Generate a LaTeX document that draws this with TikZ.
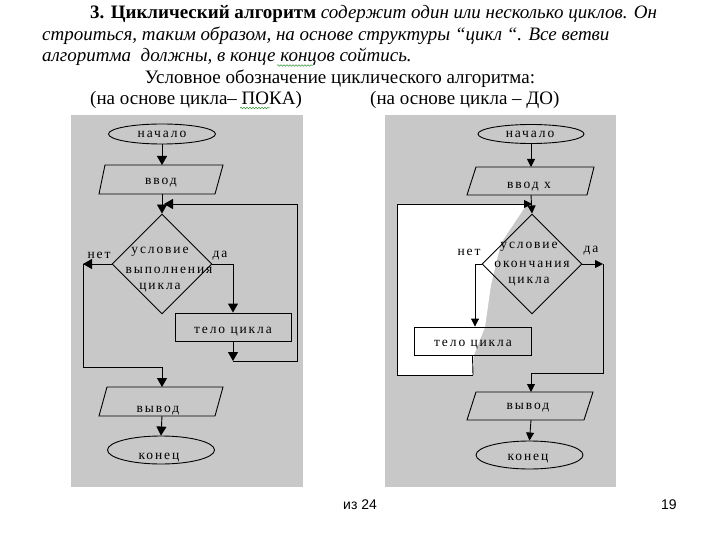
\documentclass[tikz,border=0pt]{standalone}
\usepackage{fontspec}
\setmainfont{Liberation Serif}
\newfontfamily\lbfnt[LetterSpace=14]{Liberation Serif}
\newfontfamily\sansfnt{Liberation Sans}
\usetikzlibrary{shapes.geometric,arrows.meta,decorations.pathmorphing}
\definecolor{panelgray}{RGB}{200,200,200}
\definecolor{spellgreen}{RGB}{60,150,60}
\tikzset{
  ln/.style={line width=0.9pt,line join=miter},
  al/.style={ln,-{Triangle[width=10pt,length=9pt]}},
  ar/.style={ln,-{Triangle[width=8pt,length=8pt]}},
  lb/.style={font=\lbfnt\fontsize{13.5}{13.5}\selectfont,inner sep=0pt},
  term/.style={ellipse,draw,ln,inner sep=0pt},
  dec/.style={diamond,draw,ln,inner sep=0pt,minimum width=100pt,minimum height=100pt},
  proc/.style={rectangle,draw,ln,inner sep=0pt},
  hdr/.style={font=\fontsize{19}{21}\selectfont,inner sep=0pt,anchor=base west},
  foot/.style={font=\sansfnt\fontsize{14}{14}\selectfont,inner sep=0pt,anchor=base west},
  wavy/.style={spellgreen,line width=0.5pt,decorate,decoration={snake,amplitude=0.8pt,segment length=3pt}}
}
\begin{document}
\begin{tikzpicture}[x=1pt,y=-1pt]
\useasboundingbox (0,0) rectangle (720,540);
\fill[white] (0,0) rectangle (720,540);
% header
\node[hdr] (h1) at (90,19) {\textbf{3. Циклический алгоритм} \textit{содержит один или несколько циклов. Он}};
\node[hdr] (h2) at (42,41) {\textit{строиться, таким образом, на основе структуры “цикл “. Все ветви}};
\node[hdr] (h3) at (42,62) {\textit{алгоритма\ \ должны, в конце концов сойтись.}};
\node[hdr,anchor=base] (h4) at (340,84) {Условное обозначение циклического алгоритма:};
\node[hdr] (h5) at (90,105) {(на основе цикла– ПОКА)};
\node[hdr] (h6) at (370,105) {(на основе цикла – ДО)};
\coordinate (w1a) at (277,65.5);
\coordinate (w1b) at (313,65.5);
\coordinate (w2a) at (240,108);
\coordinate (w2b) at (270,108);
\draw[wavy] (w1a) -- (w1b);
\draw[wavy] (w2a) -- (w2b);
% panels
\fill[panelgray] (71,115) rectangle (303,487);
\fill[panelgray] (385,115) rectangle (616,487);
\fill[white] (397,204) -- (527,204) -- (501,243) -- (491,285) -- (485,327) -- (474,355) -- (473,375) -- (397,375) -- cycle;

% ---------- left flowchart ----------
\node[term,minimum width=107pt,minimum height=20pt] (Lstart) at (162,134) {};
\node[lb] (LstartT) at (162,134) {начало};
\draw[ln] (105,165) -- (223,165) -- (215,194) -- (99,194) -- cycle;
\coordinate (Lin-n) at (162,165);
\coordinate (Lin-s) at (162,194);
\node[lb] (LinT) at (161,183) {ввод};
\node[dec] (Ldec) at (162,264) {};
\node[lb] (LdecT1) at (160,252) {условие};
\node[lb] (LdecT2) at (169,270) {выполнения};
\node[lb] (LdecT3) at (160,288) {цикла};
\node[lb] (Lno) at (99,255) {нет};
\node[lb] (Lyes) at (220,256) {да};
\node[proc,minimum width=116pt,minimum height=28pt] (Lbody) at (233,327) {};
\node[lb] (LbodyT) at (233,332) {тело цикла};
\draw[ln] (107,387) -- (223,387) -- (215,416) -- (99,416) -- cycle;
\coordinate (Lout-n) at (162,387);
\coordinate (Lout-s) at (162,416);
\node[lb] (LoutT) at (158,411) {вывод};
\node[term,minimum width=107pt,minimum height=28pt] (Lend) at (161,450) {};
\node[lb] (LendT) at (159,458) {конец};
\coordinate (LnoC) at (83,264);
\coordinate (Lj1) at (162,367);
\coordinate (Lj2) at (233,361);
\coordinate (Lj3) at (297,204);
\coordinate (Lloop) at (164,204);

\draw[al] (Lstart.south) -- (Lin-n);
\draw[al] (Lin-s) -- (Ldec.north);
\draw[al] (Ldec.west) -- (LnoC);
\draw[ln] (LnoC) |- (Lj1);
\draw[al] (Lj1) -- (Lout-n);
\draw[al] (Ldec.east) -| (Lbody.north);
\draw[al] (Lbody.south) -- (Lj2);
\draw[ln] (Lj2) -| (Lj3);
\draw[al] (Lj3) -- (Lloop);
\draw[al] (Lout-s) -- (Lend.north);

% ---------- right flowchart ----------
\node[term,minimum width=106pt,minimum height=19pt] (Rstart) at (531,134) {};
\node[lb] (RstartT) at (530,134) {начало};
\draw[ln] (476,167) -- (594,167) -- (587,195) -- (467,195) -- cycle;
\coordinate (Rin-n) at (531,167);
\coordinate (Rin-s) at (531,195);
\node[lb] (RinT) at (529,187) {ввод х};
\node[dec] (Rdec) at (532,264) {};
\node[lb] (RdecT1) at (529,247) {условие};
\node[lb] (RdecT2) at (532,264) {окончания};
\node[lb] (RdecT3) at (529,282) {цикла};
\node[lb] (Rno) at (469,252) {нет};
\node[lb] (Ryes) at (591,251) {да};
\node[proc,minimum width=117pt,minimum height=28pt] (Rbody) at (472.5,341) {};
\node[lb] (RbodyT) at (473,345) {тело цикла};
\draw[ln] (476,392) -- (593,392) -- (584,420) -- (467,420) -- cycle;
\coordinate (Rout-n) at (531,392);
\coordinate (Rout-s) at (531,420);
\node[lb] (RoutT) at (528,408) {вывод};
\node[term,minimum width=107pt,minimum height=28pt] (Rend) at (529.5,455) {};
\node[lb] (RendT) at (528,459) {конец};
\coordinate (RnoC) at (475,264);
\coordinate (RyesC) at (603,264);
\coordinate (Rj1) at (531,373);
\coordinate (Rj2) at (473,375);
\coordinate (Rj3) at (397,204);
\coordinate (Rloop) at (532,204);

\draw[ar] (Rstart.south) -- (Rin-n);
\draw[ar] (Rin-s) -- (Rdec.north);
\draw[ln] (Rdec.west) -- (RnoC);
\draw[ar] (RnoC) -- (RnoC |- Rbody.north);
\draw[ar] (Rdec.east) -- (RyesC);
\draw[ln] (RyesC) |- (Rj1);
\draw[ar] (Rj1) -- (Rout-n);
\draw[ln] (Rbody.south) -- (Rj2);
\draw[ln] (Rj2) -| (Rj3);
\draw[ar] (Rj3) -- (Rloop);
\draw[ar] (Rout-s) -- (Rend.north);

% footer
\node[foot] (pg1) at (343,509) {из 24};
\node[foot] (pg2) at (661,509) {19};
\end{tikzpicture}
\end{document}
